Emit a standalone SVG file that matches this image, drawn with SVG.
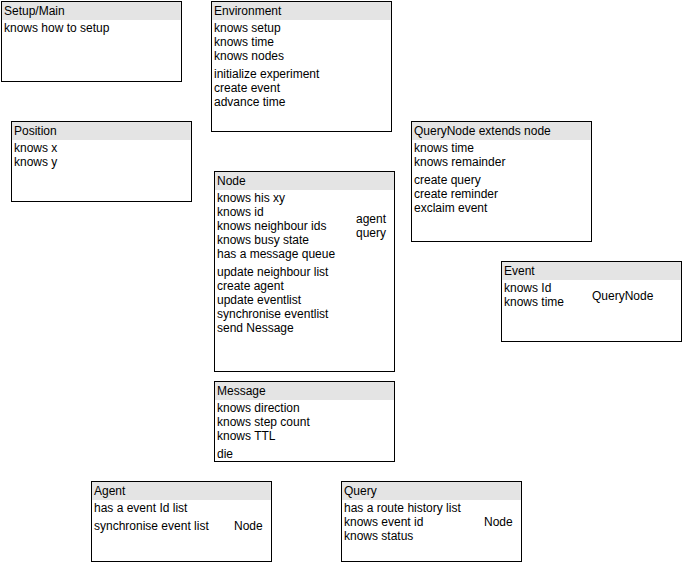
<svg xmlns="http://www.w3.org/2000/svg" width="684" height="564" viewBox="0 0 684 564">
<style>
text{font-family:"Liberation Sans",Arial,Helvetica,sans-serif;font-size:12px;fill:#000}
.box{fill:#fff;stroke:#000;stroke-width:1}
.hdr{fill:#e4e4e4;stroke:none}
</style>
<rect width="684" height="564" fill="#fff"/>
<g id="setup-main">
<rect class="box" x="1.5" y="1.5" width="180" height="80"/>
<rect class="hdr" x="2" y="2" width="179" height="18"/>
<text x="4" y="15">Setup/Main</text>
<text x="4" y="32">knows how to setup</text>
</g>
<g id="environment">
<rect class="box" x="211.5" y="1.5" width="180" height="130"/>
<rect class="hdr" x="212" y="2" width="179" height="18"/>
<text x="214" y="15">Environment</text>
<text x="214" y="32">knows setup</text>
<text x="214" y="46">knows time</text>
<text x="214" y="60">knows nodes</text>
<text x="214" y="78">initialize experiment</text>
<text x="214" y="92">create event</text>
<text x="214" y="106">advance time</text>
</g>
<g id="position">
<rect class="box" x="11.5" y="121.5" width="180" height="80"/>
<rect class="hdr" x="12" y="122" width="179" height="18"/>
<text x="14" y="135">Position</text>
<text x="14" y="152">knows x</text>
<text x="14" y="166">knows y</text>
</g>
<g id="querynode">
<rect class="box" x="411.5" y="121.5" width="180" height="120"/>
<rect class="hdr" x="412" y="122" width="179" height="18"/>
<text x="414" y="135">QueryNode extends node</text>
<text x="414" y="152">knows time</text>
<text x="414" y="166">knows remainder</text>
<text x="414" y="184">create query</text>
<text x="414" y="198">create reminder</text>
<text x="414" y="212">exclaim event</text>
</g>
<g id="node">
<rect class="box" x="214.5" y="171.5" width="180" height="200"/>
<rect class="hdr" x="215" y="172" width="179" height="18"/>
<text x="217" y="185">Node</text>
<text x="217" y="202">knows his xy</text>
<text x="217" y="216">knows id</text>
<text x="217" y="230">knows neighbour ids</text>
<text x="217" y="244">knows busy state</text>
<text x="217" y="258">has a message queue</text>
<text x="217" y="276">update neighbour list</text>
<text x="217" y="290">create agent</text>
<text x="217" y="304">update eventlist</text>
<text x="217" y="318">synchronise eventlist</text>
<text x="217" y="332">send Nessage</text>
<text x="356" y="223">agent</text>
<text x="356" y="237">query</text>
</g>
<g id="event">
<rect class="box" x="501.5" y="261.5" width="180" height="80"/>
<rect class="hdr" x="502" y="262" width="179" height="18"/>
<text x="504" y="275">Event</text>
<text x="504" y="292">knows Id</text>
<text x="504" y="306">knows time</text>
<text x="592" y="300">QueryNode</text>
</g>
<g id="message">
<rect class="box" x="214.5" y="381.5" width="180" height="80"/>
<rect class="hdr" x="215" y="382" width="179" height="18"/>
<text x="217" y="395">Message</text>
<text x="217" y="412">knows direction</text>
<text x="217" y="426">knows step count</text>
<text x="217" y="440">knows TTL</text>
<text x="217" y="458">die</text>
</g>
<g id="agent">
<rect class="box" x="91.5" y="481.5" width="180" height="80"/>
<rect class="hdr" x="92" y="482" width="179" height="18"/>
<text x="94" y="495">Agent</text>
<text x="94" y="512">has a event Id list</text>
<text x="94" y="530">synchronise event list</text>
<text x="234" y="530">Node</text>
</g>
<g id="query">
<rect class="box" x="341.5" y="481.5" width="180" height="80"/>
<rect class="hdr" x="342" y="482" width="179" height="18"/>
<text x="344" y="495">Query</text>
<text x="344" y="512">has a route history list</text>
<text x="344" y="526">knows event id</text>
<text x="344" y="540">knows status</text>
<text x="484" y="526">Node</text>
</g>
<g id="connectors"/>
</svg>
